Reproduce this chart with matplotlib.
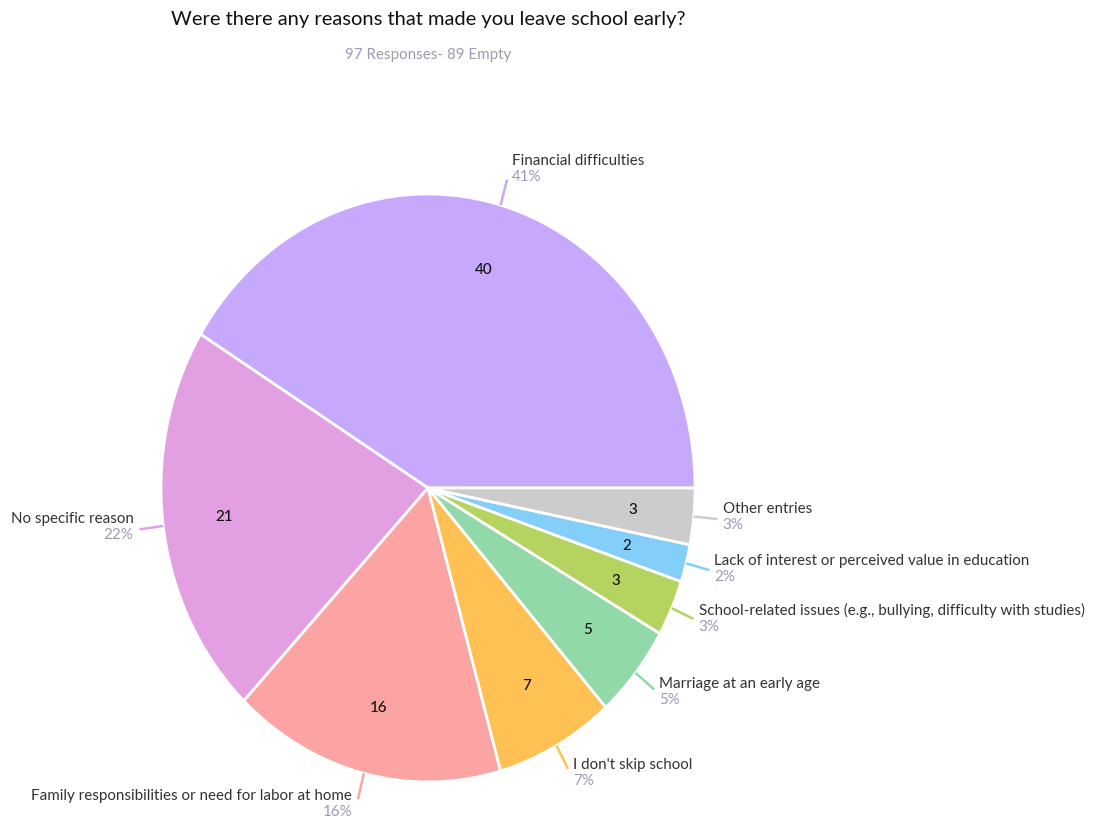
import numpy as np
import matplotlib.pyplot as plt

# survey answers, counterclockwise from 3 o'clock
reasons = ["Financial difficulties", "No specific reason",
           "Family responsibilities or need for labor at home", "I don't skip school",
           "Marriage at an early age",
           "School-related issues (e.g., bullying, difficulty with studies)",
           "Lack of interest or perceived value in education", "Other entries"]
counts = [40, 21, 16, 7, 5, 3, 2, 3]
colors = ["#C6A8FD", "#E2A0E3", "#FBA4A3", "#FFC153",
          "#91D9A9", "#B4D45F", "#84CEFA", "#CCCCCC"]

title = "Were there any reasons that made you leave school early?"
subtitle = "97 Responses- 89 Empty"

plt.rcParams['font.family'] = ['Lato', 'DejaVu Sans']

W, H = 1095, 817
fig = plt.figure(figsize=(W / 100, H / 100), dpi=100)
ax = fig.add_axes([0, 0, 1, 1])

total = sum(counts)
wedges, _, autotexts = ax.pie(
    counts, colors=colors, startangle=0, counterclock=True,
    autopct=lambda p: f"{round(p * total / 100)}", pctdistance=0.77,
    wedgeprops=dict(edgecolor="white", linewidth=2))
for t in autotexts:
    t.set_fontsize(11)
    t.set_color("#111111")
    t.set_fontweight("medium")

# pie is drawn a little taller than wide
cx, cy, rx, ry = 428, 488, 267, 294
ax.set_aspect('auto')
ax.set_xlim(-cx / rx, (W - cx) / rx)
ax.set_ylim(-(H - cy) / ry, cy / ry)
ax.axis('off')

for w, name, n in zip(wedges, reasons, counts):
    theta = np.deg2rad((w.theta1 + w.theta2) / 2)
    c, s = np.cos(theta), np.sin(theta)
    x0, y0 = c, s
    x1, y1 = 1.09 * c, 1.09 * s
    ax.plot([x0, x1], [y0, y1], color=w.get_facecolor(), lw=1.8,
            solid_capstyle='butt')
    right = c >= 0
    ha = 'left' if right else 'right'
    dx = 5 if right else -6
    dy = 3 + 8 * s
    ax.annotate(name, (x1, y1), xytext=(dx, dy + 1), textcoords='offset pixels',
                ha=ha, va='bottom', fontsize=10.9, color="#333333")
    ax.annotate(f"{round(100 * n / total)}%", (x1, y1), xytext=(dx, dy - 1),
                textcoords='offset pixels', ha=ha, va='top', fontsize=10.9,
                color="#9C9CB2")

fig.text(cx / W, 1 - 20 / H, title, ha='center', va='center',
         fontsize=14.5, color="#111111")
fig.text(cx / W, 1 - 55 / H, subtitle, ha='center', va='center',
         fontsize=10.9, color="#9C9CB2")

fig.savefig("out.png", dpi=100, facecolor="white")
